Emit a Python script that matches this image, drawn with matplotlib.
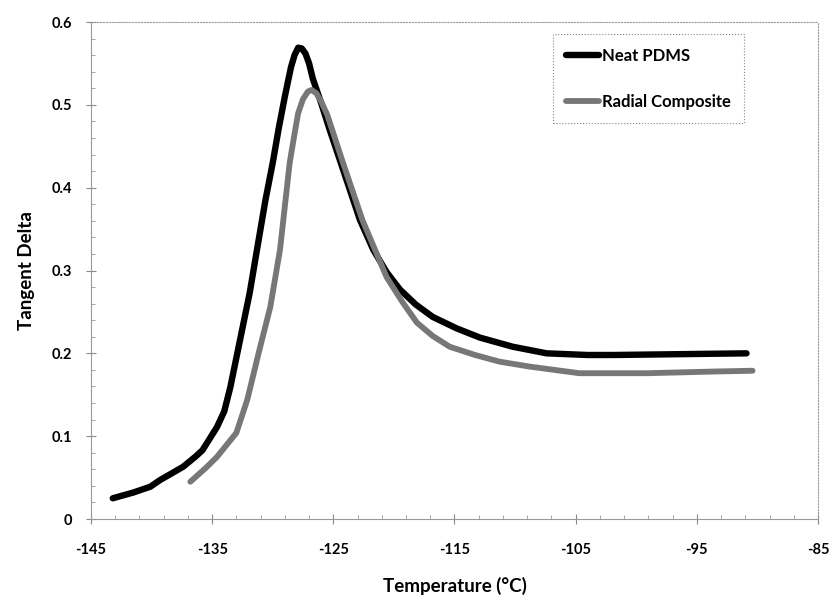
import matplotlib.pyplot as plt

# data
neat_t = [-143.2, -141.5, -140.1, -139.3, -137.4, -136.4, -135.8, -134.6, -134.0,
          -133.5, -132.7, -131.9, -131.3, -130.6, -130.0, -129.5, -129.0, -128.5,
          -128.2, -127.9, -127.6, -127.3, -127.0, -126.7, -126.0, -125.3, -123.9,
          -122.8, -121.7, -120.6, -119.5, -118.2, -116.8, -114.8, -112.9, -110.2,
          -107.4, -104.0, -101.9, -96.4, -90.9]
neat_td = [0.025, 0.032, 0.039, 0.047, 0.063, 0.075, 0.083, 0.111, 0.130,
           0.159, 0.216, 0.273, 0.325, 0.385, 0.430, 0.472, 0.510, 0.545,
           0.560, 0.569, 0.568, 0.562, 0.550, 0.532, 0.502, 0.470, 0.409,
           0.361, 0.325, 0.298, 0.277, 0.259, 0.244, 0.230, 0.219, 0.208,
           0.200, 0.198, 0.198, 0.199, 0.200]

rad_t = [-136.8, -135.5, -134.6, -133.0, -132.1, -131.1, -130.2, -129.4, -128.6,
         -128.2, -127.9, -127.5, -127.1, -126.8, -126.4, -126.0, -125.5, -124.2,
         -122.6, -120.6, -119.3, -118.1, -116.8, -115.4, -113.3, -111.3, -108.8,
         -104.7, -99.1, -93.7, -90.4]
rad_td = [0.045, 0.062, 0.075, 0.104, 0.144, 0.204, 0.256, 0.325, 0.430,
          0.465, 0.490, 0.507, 0.516, 0.518, 0.514, 0.504, 0.488, 0.430,
          0.361, 0.292, 0.262, 0.237, 0.221, 0.208, 0.198, 0.190, 0.184,
          0.176, 0.176, 0.178, 0.179]

x_ticks = [-145, -135, -125, -115, -105, -95, -85]
y_ticks = [0, 0.1, 0.2, 0.3, 0.4, 0.5, 0.6]
y_labels = ['0', '0.1', '0.2', '0.3', '0.4', '0.5', '0.6']

plt.rcParams['font.family'] = ['Lato', 'DejaVu Sans']
plt.rcParams['axes.unicode_minus'] = False

fig = plt.figure(figsize=(8.33, 6.03), dpi=100)
ax = fig.add_axes([0.1092, 0.1393, 0.8728, 0.8242])

ax.plot(neat_t, neat_td, color='black', lw=4.6, solid_joinstyle='round',
        solid_capstyle='round', label='Neat PDMS')
ax.plot(rad_t, rad_td, color='#777777', lw=4.2, solid_joinstyle='round',
        solid_capstyle='round', label='Radial Composite')

ax.set_xlim(-145, -85)
ax.set_ylim(0, 0.6)
ax.set_xticks(x_ticks)
ax.set_xticks([t for t in range(-145, -84, 2)], minor=True)
ax.set_yticks(y_ticks)
ax.set_yticklabels(y_labels)
ax.set_yticks([i * 0.02 for i in range(31)], minor=True)

ax.tick_params(which='major', direction='inout', length=7, width=0.8,
               color='#888888', labelsize=10.5)
ax.tick_params(which='minor', direction='in', length=3, width=0.6, color='#999999')
ax.tick_params(axis='x', pad=14)
ax.tick_params(axis='y', pad=10)
for lab in ax.get_xticklabels() + ax.get_yticklabels():
    lab.set_fontweight('bold')

for sp in ax.spines.values():
    sp.set_color('#999999')
    sp.set_linewidth(0.8)
    sp.set_linestyle(':')
ax.spines['left'].set_linestyle('-')
ax.spines['bottom'].set_linestyle('-')

ax.set_xlabel('Temperature (°C)', fontsize=13.5, fontweight='bold', labelpad=14)
ax.set_ylabel('Tangent Delta', fontsize=13.5, fontweight='bold', labelpad=12)

leg = ax.legend(loc='upper left', bbox_to_anchor=(0.635, 0.975),
                handlelength=2.0, handletextpad=0.15, labelspacing=1.8,
                borderpad=0.8, borderaxespad=0, fancybox=False, framealpha=1,
                prop={'weight': 'bold', 'size': 12})
leg.get_frame().set_edgecolor('#888888')
leg.get_frame().set_linewidth(0.8)
leg.get_frame().set_linestyle(':')

fig.savefig('out.png', dpi=100)
